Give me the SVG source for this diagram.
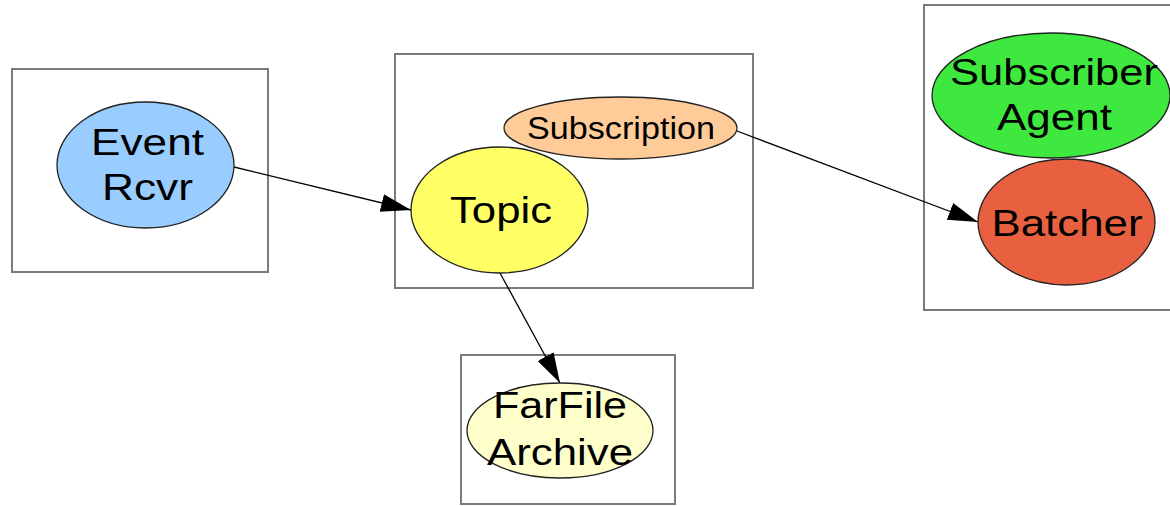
<svg xmlns="http://www.w3.org/2000/svg" width="1170" height="506" viewBox="0 0 1170 506">
<style>
.box{fill:none;stroke:#7a7a7a;stroke-width:2}
.node ellipse{stroke:#222;stroke-width:1.3}
.lbl{font-family:"Liberation Sans",Arial,sans-serif;font-size:37px;fill:#000;text-anchor:middle}
.sm{font-size:32px}
.edge{fill:none;stroke:#000;stroke-width:1.3}
</style>
<defs>
<marker id="arr" markerUnits="userSpaceOnUse" markerWidth="32" markerHeight="20" refX="30" refY="9" orient="auto">
<path d="M0,0 L30,9 L0,18 Z" fill="#000"/>
</marker>
</defs>
<rect x="0" y="0" width="1170" height="506" fill="#fff"/>
<g id="clusters">
<rect class="box" x="12" y="69" width="256" height="203"/>
<rect class="box" x="395" y="54" width="358" height="234"/>
<rect class="box" x="924" y="5" width="260" height="305"/>
<rect class="box" x="461" y="355" width="214" height="149"/>
</g>
<g id="connectors">
<path class="edge" d="M234,167 L411,210" marker-end="url(#arr)"/>
<path class="edge" d="M737,131 L978,222" marker-end="url(#arr)"/>
<path class="edge" d="M500,273 L560,383" marker-end="url(#arr)"/>
</g>
<g id="event-rcvr" class="node">
<ellipse cx="145.5" cy="165" rx="88.5" ry="63" fill="#99ccff"/>
<text class="lbl" x="147.5" y="155" textLength="113" lengthAdjust="spacingAndGlyphs">Event</text>
<text class="lbl" x="147.5" y="200" textLength="91" lengthAdjust="spacingAndGlyphs">Rcvr</text>
</g>
<g id="subscription" class="node">
<ellipse cx="620.5" cy="128" rx="116.5" ry="31" fill="#ffcc99"/>
<text class="lbl sm" x="621" y="139" textLength="188" lengthAdjust="spacingAndGlyphs">Subscription</text>
</g>
<g id="topic" class="node">
<ellipse cx="499.5" cy="210" rx="88.5" ry="63" fill="#ffff66"/>
<text class="lbl" x="501" y="223" textLength="102" lengthAdjust="spacingAndGlyphs">Topic</text>
</g>
<g id="subscriber-agent" class="node">
<ellipse cx="1051" cy="95.5" rx="119" ry="62.5" fill="#3ee83e"/>
<text class="lbl" x="1054" y="85" textLength="208" lengthAdjust="spacingAndGlyphs">Subscriber</text>
<text class="lbl" x="1054.5" y="130" textLength="115" lengthAdjust="spacingAndGlyphs">Agent</text>
</g>
<g id="batcher" class="node">
<ellipse cx="1066.5" cy="222" rx="88.5" ry="63" fill="#e96040"/>
<text class="lbl" x="1067" y="236" textLength="151" lengthAdjust="spacingAndGlyphs">Batcher</text>
</g>
<g id="farfile-archive" class="node">
<ellipse cx="560" cy="430.5" rx="93" ry="47.5" fill="#ffffcc"/>
<text class="lbl" x="560" y="418" textLength="134" lengthAdjust="spacingAndGlyphs">FarFile</text>
<text class="lbl" x="560" y="465" textLength="146" lengthAdjust="spacingAndGlyphs">Archive</text>
</g>
</svg>
